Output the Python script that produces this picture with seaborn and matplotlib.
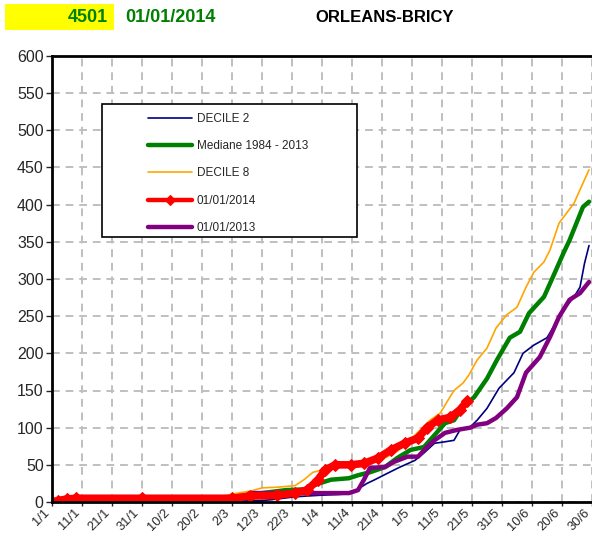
import numpy as np
import pandas as pd
import seaborn as sns
import matplotlib.pyplot as plt
from matplotlib.patches import Rectangle

# day of year index (0 = 1/1) and cumulative values
d2_days = [0, 60, 70, 73, 81, 89, 95, 99, 101, 105, 107.6, 112, 116, 121, 124, 127.5, 131, 134, 136, 139.4,
           141.7, 145, 149, 154, 157, 160.6, 165, 168, 170.5, 174, 176, 177.5, 179]
d2_vals = [0, 1, 2, 3, 7, 9, 10, 11, 15, 25, 30, 39, 47, 56, 66, 79, 81, 83, 97, 101,
           110, 126, 153, 174, 200, 211, 221, 241, 258, 276, 289, 321, 345]

med_days = [0, 20, 40, 55, 62, 70, 78, 84, 89, 93, 99, 102, 106, 111, 115, 119.5, 124, 127.5, 131, 134, 137,
            140.7, 145, 148.3, 152.6, 156, 159, 164, 167, 170.5, 172.5, 177, 179]
med_vals = [0, 1, 3, 5, 8, 12, 16, 17, 25, 30, 32, 36, 40, 47, 59, 70, 74, 90, 106, 110, 128,
            141, 166, 191, 221, 229, 254, 276, 303, 335, 352, 397, 404]

d8_days = [0, 20, 40, 50, 55.6, 62, 66.5, 70, 75.5, 81, 84, 87, 91, 95, 100, 105, 110, 115, 118, 121, 126,
           129.5, 132, 134, 137, 139, 141.7, 145, 148, 151.6, 155, 158, 160.6, 164, 166, 169, 174, 177, 179]
d8_vals = [0, 1, 3, 5, 7, 12, 15, 19, 20, 22, 30, 40, 44, 47, 50, 53, 57, 68, 78, 90, 110,
           120, 137, 150, 160, 171, 191, 207, 234, 252, 262, 289, 309, 323, 339, 375, 402, 429, 447]

y2014_days = [0, 2, 5, 8, 30, 60, 66, 75, 81, 85, 88.7, 91, 94.4, 99.7, 104, 108.6, 113, 117.5, 122, 125,
              128.5, 132.8, 136, 138.4]
y2014_vals = [0, 2, 4, 5, 5, 5, 8, 9, 12, 16, 30, 43, 50, 50, 52, 59, 70, 79, 86, 100,
              110, 114, 124, 136]

y2013_days = [0, 3, 29, 60, 62, 64, 66, 99, 102, 104, 106, 111, 114, 118.5, 122, 125, 127.5, 131, 135, 139.4,
              141.7, 145, 148, 151.6, 155, 158, 162.6, 166, 169, 172.5, 176, 179]
y2013_vals = [0, 2, 2.5, 3, 3, 7, 12, 12, 16, 30, 46, 47, 54, 61, 61, 74, 83, 93, 97, 100,
              104, 106, 113, 126, 141, 174, 195, 222, 249, 272, 281, 296]

tick_days = list(range(0, 181, 10))
tick_labels = ['1/1', '11/1', '21/1', '31/1', '10/2', '20/2', '2/3', '12/3', '22/3', '1/4', '11/4',
               '21/4', '1/5', '11/5', '21/5', '31/5', '10/6', '20/6', '30/6']

sns.set_style("white")
plt.rcParams['font.family'] = ['Liberation Sans', 'DejaVu Sans']

fig = plt.figure(figsize=(5.92, 5.34), dpi=100)
ax = fig.add_axes([52 / 592, 32 / 534, 540 / 592, 446 / 534])

sns.lineplot(x=d2_days, y=d2_vals, ax=ax, color='#000080', lw=1.2, label='DECILE 2')
sns.lineplot(x=med_days, y=med_vals, ax=ax, color='#008000', lw=3.2, label='Mediane 1984 - 2013')
sns.lineplot(x=d8_days, y=d8_vals, ax=ax, color='#FFA500', lw=1.2, label='DECILE 8')
sns.lineplot(x=y2013_days, y=y2013_vals, ax=ax, color='#800080', lw=3.2, label='01/01/2013')
sns.lineplot(x=y2014_days, y=y2014_vals, ax=ax, color='#FF0000', lw=5.5, marker='D', markersize=6,
             markeredgecolor='#FF0000', label='01/01/2014')

ax.set_xlim(0, 180)
ax.set_ylim(0, 600)
ax.set_yticks(range(0, 601, 50))
ax.set_xticks(tick_days)
ax.set_xticklabels(tick_labels, rotation=45, ha='right', va='top')
ax.tick_params(axis='y', labelsize=11.5, direction='out', length=4, width=1, left=True, pad=2)
ax.tick_params(axis='x', labelsize=9.3, direction='out', length=3, width=1, bottom=True, pad=0.5)
ax.grid(True, color='#BFBFBF', linestyle=(0, (4, 3)), lw=1.4)
ax.set_xlabel('')
ax.set_ylabel('')
for side in ['left', 'bottom', 'top']:
    ax.spines[side].set_color('black')
    ax.spines[side].set_linewidth(2)
ax.spines['right'].set_visible(False)

# legend: Excel-like fixed box
ax.add_patch(Rectangle((0.0926, 0.594), 0.472, 0.298, transform=ax.transAxes,
                       facecolor='white', edgecolor='black', lw=1.2, zorder=4.5))
handles, labels = ax.get_legend_handles_labels()
order = [0, 1, 2, 4, 3]
leg = ax.legend([handles[i] for i in order], [labels[i] for i in order],
                loc='upper left', bbox_to_anchor=(0.178, 0.873), frameon=False,
                fontsize=8.5, labelspacing=1.3, handlelength=3.7, handletextpad=0.4,
                borderpad=0, borderaxespad=0)
leg.set_zorder(5)
for h in leg.legend_handles:
    if h.get_linewidth() > 4:
        h.set_linewidth(3.2)
        h.set_markersize(5)

# header
fig.add_artist(Rectangle((5 / 592, 1 - 30 / 534), 109 / 592, 26 / 534, transform=fig.transFigure,
                         facecolor='#FFFF00', edgecolor='none'))
fig.text(108 / 592, 1 - 17 / 534, '4501', color='#008000', fontsize=13, fontweight='bold',
         ha='right', va='center')
fig.text(125 / 592, 1 - 17 / 534, '01/01/2014', color='#008000', fontsize=13, fontweight='bold',
         ha='left', va='center')
fig.text(315 / 592, 1 - 17 / 534, 'ORLEANS-BRICY', color='black', fontsize=12, fontweight='bold',
         ha='left', va='center')

fig.savefig('out.png', dpi=100)
